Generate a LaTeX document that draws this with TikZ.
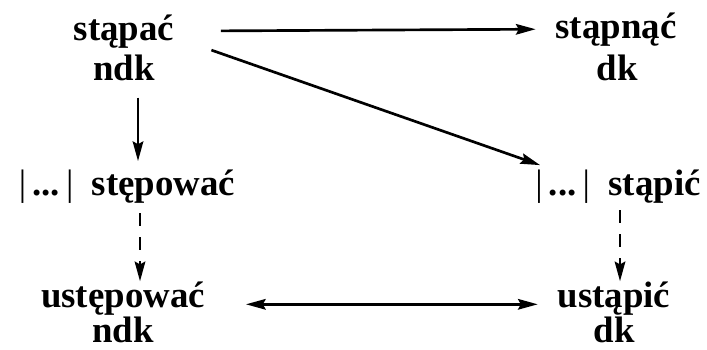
\documentclass[tikz,border=0pt]{standalone}
\usepackage{fontspec}
\setmainfont{Liberation Serif}
\usetikzlibrary{arrows.meta}
\tikzset{wd/.style={anchor=base,inner sep=0pt,font=\fontsize{26.2}{28}\selectfont\bfseries},
 wd2/.style={wd,align=center,font=\fontsize{26.2}{23.5}\selectfont\bfseries},
 ar/.style={line width=1.9pt,-{Stealth[length=14pt,width=7.5pt,inset=2pt]}},
 ar2/.style={line width=1.9pt,{Stealth[length=14pt,width=7.5pt,inset=2pt]}-{Stealth[length=14pt,width=7.5pt,inset=2pt]}},
 dsh/.style={ar,dash pattern=on 9pt off 8pt}}

\begin{document}
\begin{tikzpicture}[x=0.025cm,y=-0.025cm]
\useasboundingbox (0,0) rectangle (707,349);
\node[wd](a) at (124,40){stąpać};
\node[wd](a2) at (124,80){ndk};
\node[wd](b) at (616,38){stąpnąć};
\node[wd](b2) at (617,80){dk};
\node[wd](c) at (127,195){{\mdseries|}\,...\,{\mdseries|}\hspace{0.5em}stępować};
\node[wd](d) at (618,195){{\mdseries|}\,...\,{\mdseries|}\hspace{0.5em}stąpić};
\node[wd2](e) at (123,342){ustępować\\ndk};
\node[wd2](f) at (614,342){ustąpić\\dk};
\draw[ar,shorten <=33pt,shorten >=14pt](a.east)--(b.west);
\draw[ar]([shift={(37,2)}]a.south east)--([shift={(5,-4)}]d.north west);
\draw[ar]([shift={(14,17)}]a2.south)--([shift={(11,-8)}]c.north);
\draw[dsh]([shift={(13,10)}]c.south)--([shift={(17,0)}]e.north);
\draw[dsh]([shift={(2,7)}]d.south)--([shift={(6,0)}]f.north);
\draw[ar2,shorten <=29pt,shorten >=14pt]([shift={(0,23)}]e.north east)--([shift={(0,23)}]f.north west);
\end{tikzpicture}
\end{document}
